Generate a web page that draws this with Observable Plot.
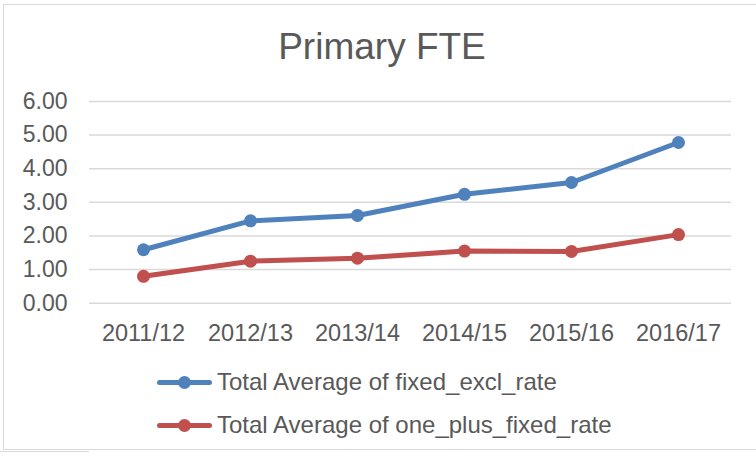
<!DOCTYPE html>
<html>
<head>
<meta charset="utf-8">
<script src="https://cdn.jsdelivr.net/npm/d3@7"></script>
<script src="https://cdn.jsdelivr.net/npm/@observablehq/plot@0.6"></script>
<style>
  html, body { margin: 0; padding: 0; background: #fff; }
  #wrap { position: relative; width: 756px; height: 456px; overflow: hidden; font-family: "Liberation Sans", Arial, sans-serif; color: #595959; }
  #frame { position: absolute; left: 3px; top: 4px; width: 800px; height: 446px; border: 1.5px solid #D9D9D9; box-sizing: border-box; }
  #cell { position: absolute; left: 0; top: 451px; width: 89px; height: 0; border-top: 1.5px solid #D9D9D9; }
  #title { position: absolute; left: 0; width: 764px; top: 26px; text-align: center; font-size: 37px; line-height: 42px; }
  #chart { position: absolute; left: 0; top: 80px; }
  #legend { position: absolute; left: 0; top: 360px; }
  .item { position: absolute; left: 157px; height: 30px; display: flex; align-items: center; font-size: 24px; white-space: nowrap; }
  .sw { position: relative; width: 55px; height: 30px; margin-right: 5px; }
  .sw .ln { position: absolute; left: 0; top: 12.5px; width: 55px; height: 5px; border-radius: 2.5px; }
  .sw .dt { position: absolute; left: 21px; top: 8.5px; width: 13px; height: 13px; border-radius: 50%; }
</style>
</head>
<body>
<div id="wrap">
  <div id="frame"></div>
  <div id="cell"></div>
  <div id="title">Primary FTE</div>
  <div id="chart"></div>
  <div id="legend"></div>
</div>
<script>
const years = ["2011/12", "2012/13", "2013/14", "2014/15", "2015/16", "2016/17"];
const fixedExcl = [1.59, 2.45, 2.61, 3.24, 3.59, 4.78];
const onePlusFixed = [0.80, 1.25, 1.34, 1.55, 1.54, 2.04];
const seriesNames = ["Total Average of fixed_excl_rate", "Total Average of one_plus_fixed_rate"];
const seriesColors = ["#4F81BD", "#C0504D"];
const yTicks = [0, 1, 2, 3, 4, 5, 6];

const rows = [];
years.forEach((y, i) => {
  rows.push({year: y, value: fixedExcl[i], series: seriesNames[0]});
  rows.push({year: y, value: onePlusFixed[i], series: seriesNames[1]});
});

const chart = Plot.plot({
  width: 756,
  height: 280,
  marginLeft: 89,
  marginRight: 25,
  marginTop: 21,
  marginBottom: 57.3,
  style: {fontFamily: "'Liberation Sans', Arial, sans-serif", fontSize: "23px", color: "#595959", background: "transparent"},
  x: {type: "point", domain: years, padding: 0.5, label: null},
  y: {domain: [0, 6], label: null},
  color: {domain: seriesNames, range: seriesColors},
  marks: [
    Plot.ruleY(yTicks, {stroke: "#D9D9D9", strokeWidth: 1.5}),
    Plot.axisX({tickSize: 0, tickPadding: 21, fontSize: 23.5, fill: "#595959", label: null}),
    Plot.axisY({ticks: yTicks, tickFormat: d => d.toFixed(2), tickSize: 0, tickPadding: 22, fontSize: 23, fill: "#595959", label: null}),
    Plot.line(rows, {x: "year", y: "value", z: "series", stroke: "series", strokeWidth: 5, strokeLinecap: "round", strokeLinejoin: "round"}),
    Plot.dot(rows, {x: "year", y: "value", fill: "series", r: 6.5})
  ]
});
document.getElementById("chart").appendChild(chart);

const legend = document.getElementById("legend");
seriesNames.forEach((name, i) => {
  const item = document.createElement("div");
  item.className = "item";
  item.style.top = (7 + i * 43) + "px";
  item.innerHTML = `<div class="sw"><div class="ln" style="background:${seriesColors[i]}"></div><div class="dt" style="background:${seriesColors[i]}"></div></div><span>${name}</span>`;
  legend.appendChild(item);
});
</script>
</body>
</html>
